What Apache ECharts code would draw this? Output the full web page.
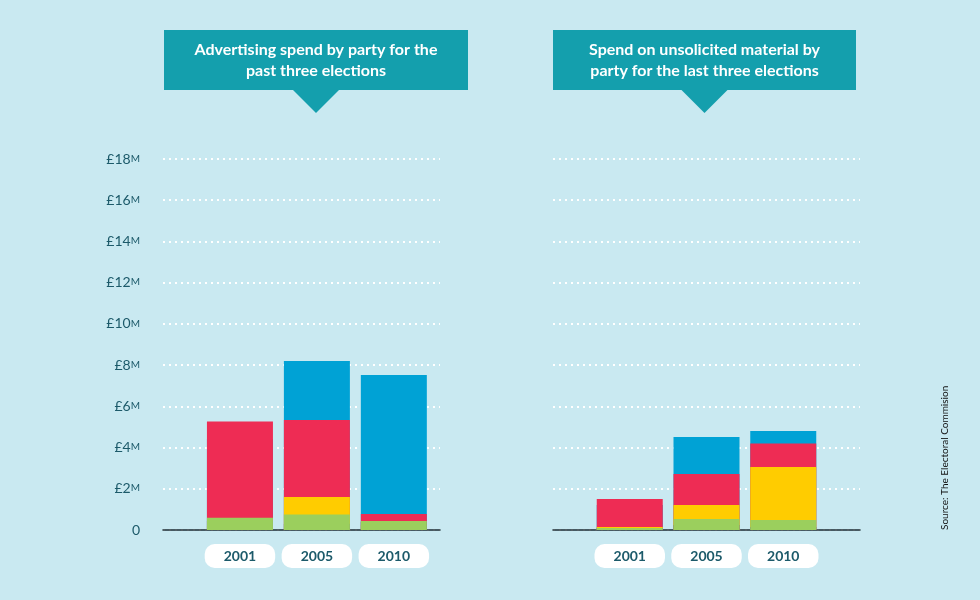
<!DOCTYPE html>
<html><head><meta charset="utf-8">
<script src="https://cdn.jsdelivr.net/npm/echarts@6/dist/echarts.min.js"></script>
<style>html,body{margin:0;padding:0;background:#c9e9f1}#c{width:980px;height:600px}</style>
</head><body><div id="c"></div>
<script>
const years = ['2001', '2005', '2010'];
const yPos = [1, 2, 3];
// advertising spend, £M, stacked bottom to top
const advBlue = [4.4, 8.2, 7.52];
const advRed = [5.26, 5.34, 0.78];
const advYellow = [0.2, 1.6, 0.24];
const advPurple = [0.45, 0.3, 0.39];
const advGreen = [0.6, 0.75, 0.44];
// unsolicited material, £M
const unsBlue = [1.21, 4.51, 4.8];
const unsRed = [1.5, 2.72, 4.2];
const unsYellow = [0.15, 1.21, 3.06];
const unsPurple = [0.1, 0.24, 0.15];
const unsGreen = [0.1, 0.53, 0.49];

const colors = ['#00a2d5', '#ee2c54', '#ffcc00', '#58569a', '#9bcf5d'];
const chart = echarts.init(document.getElementById('c'));

function axes(idx, xmax, showLabels) {
  return {
    x: {
      type: 'value', gridIndex: idx, min: 0, max: xmax, interval: 1,
      splitLine: {show: false},
      axisLine: {show: true, lineStyle: {color: '#1b2b33', width: 1.5}},
      axisTick: {show: false},
      axisLabel: {
        margin: 14, showMinLabel: false, showMaxLabel: false,
        formatter: v => years[v - 1] ? '{b|' + years[v - 1] + '}' : '',
        rich: {b: {color: '#1c5a6a', fontSize: 14, fontFamily: 'Lato', fontWeight: 'bold',
          backgroundColor: '#ffffff', borderRadius: 10, padding: [5, 19, 5, 19]}}
      }
    },
    y: {
      type: 'value', gridIndex: idx, min: 0, max: 18, interval: 2,
      axisLine: {show: false}, axisTick: {show: false},
      splitLine: {lineStyle: {color: '#ffffff', type: [2, 4], width: 2}},
      axisLabel: {
        show: showLabels, margin: 23, color: '#1c5a6a', fontFamily: 'Lato', fontSize: 14,
        formatter: v => v === 0 ? '0' : '£' + v + '{m|M}',
        rich: {m: {fontSize: 10, color: '#1c5a6a', fontFamily: 'Lato', padding: [0, 0, 1, 0]}}
      }
    }
  };
}
const a0 = axes(0, 3.6, true), a1 = axes(1, 4, false);

function stack(idx, arrs) {
  return arrs.map((d, i) => ({
    type: 'bar', xAxisIndex: idx, yAxisIndex: idx, stack: 's' + idx,
    data: d.map((v, j) => [yPos[j], v]),
    barWidth: 66, itemStyle: {color: colors[i]}, silent: true
  }));
}

function titleBox(x, w, text) {
  const cx = x + w / 2;
  return [
    {type: 'rect', shape: {x: x, y: 30, width: w, height: 60}, style: {fill: '#149fad'}},
    {type: 'polygon', shape: {points: [[cx - 24, 89], [cx + 24, 89], [cx, 113]]}, style: {fill: '#149fad'}},
    {type: 'text', x: cx, y: 60, style: {text: text, fill: '#fff', font: 'bold 16px Lato', align: 'center', verticalAlign: 'middle', lineHeight: 21}}
  ];
}

chart.setOption({
  backgroundColor: '#c9e9f1',
  animation: false,
  grid: [
    {left: 163, top: 159, width: 277, height: 371},
    {left: 553, top: 159, width: 307, height: 371}
  ],
  xAxis: [a0.x, a1.x],
  yAxis: [a0.y, a1.y],
  series: stack(0, [advBlue, advRed, advYellow, advPurple, advGreen])
    .concat(stack(1, [unsBlue, unsRed, unsYellow, unsPurple, unsGreen])),
  graphic: titleBox(164, 304, 'Advertising spend by party for the\npast three elections')
    .concat(titleBox(553, 303, 'Spend on unsolicited material by\nparty for the last three elections'))
    .concat([{
      type: 'text', x: 940, y: 530, rotation: Math.PI / 2,
      style: {text: 'Source: The Electoral Commision', fill: '#111', font: '10px Lato', align: 'left', verticalAlign: 'top'}
    }])
});
</script></body></html>
